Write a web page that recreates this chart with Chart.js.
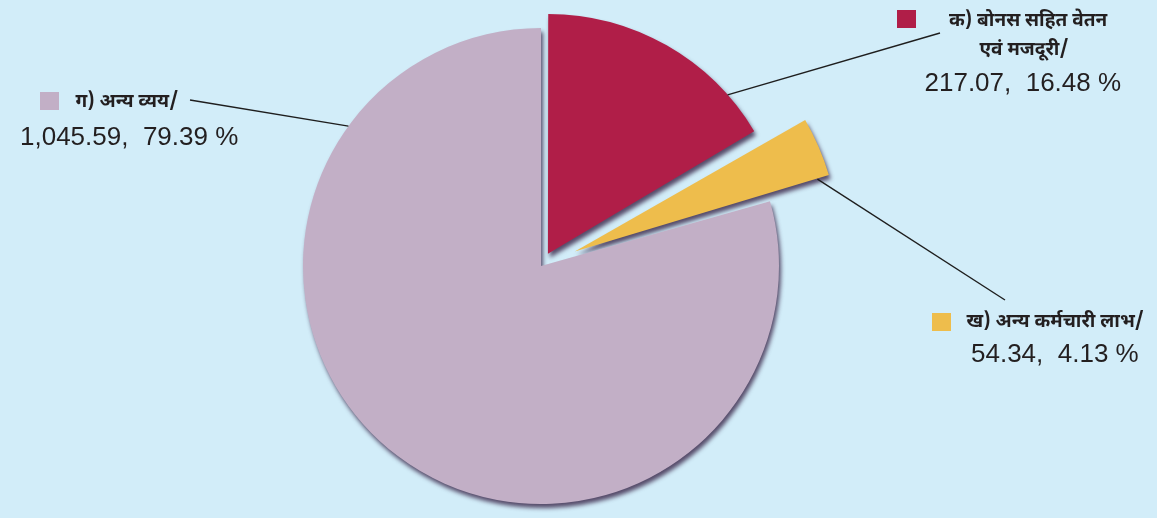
<!DOCTYPE html>
<html>
<head>
<meta charset="utf-8">
<script src="https://cdn.jsdelivr.net/npm/chart.js@4.4.1/dist/chart.umd.min.js"></script>
<style>
  html, body { margin: 0; padding: 0; background: #d2edf9; }
  #wrap { position: relative; width: 1157px; height: 518px; overflow: hidden; background: #d2edf9; }
  canvas { position: absolute; left: 0; top: 0; }
  .lbl { position: absolute; color: #231f20; white-space: nowrap; }
  .dev { font-family: "Noto Sans Devanagari", "Noto Sans", "Lohit Devanagari", sans-serif; font-size: 19px; font-weight: 700; line-height: 26px; }
  .num { font-family: "Liberation Sans", Arial, sans-serif; font-size: 26px; line-height: 30px; }
  .sw { position: absolute; width: 19px; height: 18px; }
</style>
</head>
<body>
<div id="wrap">
  <canvas id="c" width="1157" height="518"></canvas>
</div>
<script>
// ---- data ----
const categories = ['क) बोनस सहित वेतन एवं मजदूरी/', 'ख) अन्य कर्मचारी लाभ/', 'ग) अन्य व्यय/'];
const labelLines = [['क) बोनस सहित वेतन', 'एवं मजदूरी/'], ['ख) अन्य कर्मचारी लाभ/'], ['ग) अन्य व्यय/']];
const values = [217.07, 54.34, 1045.59];
const valueLabels = ['217.07', '54.34', '1,045.59'];
const percentLabels = ['16.48 %', '4.13 %', '79.39 %'];
const colors = ['#b01e48', '#eebd4c', '#c2afc6'];

// ---- label layout (positions only) ----
const wrap = document.getElementById('wrap');
const labelLayout = [
  { sw: [897, 10], lines: [[1028, 9, 'c'], [1024, 38, 'c']], num: [1023, 67, 'c'], anchor: [940, 33], frac: 0.82, rf: 1.0 },
  { sw: [932, 313], lines: [[1055, 310, 'c']], num: [1055, 338, 'c'], anchor: [1005, 300], frac: 1.0, rf: 0.95 },
  { sw: [40, 92], lines: [[127, 90, 'c']], num: [129, 121, 'c'], anchor: [190, 100], frac: 0.811, rf: 1.0 }
];

function addText(cls, text, cx, y) {
  const d = document.createElement('div');
  d.className = 'lbl ' + cls;
  d.textContent = text;
  wrap.appendChild(d);
  d.style.top = y + 'px';
  d.style.left = (cx - d.offsetWidth / 2) + 'px';
}
labelLayout.forEach((L, i) => {
  const s = document.createElement('div');
  s.className = 'sw';
  s.style.left = L.sw[0] + 'px';
  s.style.top = L.sw[1] + 'px';
  s.style.background = colors[i];
  wrap.appendChild(s);
  labelLines[i].forEach((t, j) => addText('dev', t, L.lines[j][0], L.lines[j][1]));
  addText('num', valueLabels[i] + ',\u00a0 ' + percentLabels[i], L.num[0], L.num[1]);
});

const shadowPlugin = {
  id: 'shadow',
  beforeDatasetsDraw(chart) {
    const ctx = chart.ctx;
    ctx.save();
    ctx.shadowColor = 'rgba(55,35,70,0.8)';
    ctx.shadowBlur = 4;
    ctx.shadowOffsetX = 2;
    ctx.shadowOffsetY = 4;
  },
  afterDatasetsDraw(chart) {
    chart.ctx.restore();
  }
};

// same displacement the arc element applies when drawing an offset slice
function arcShift(p, off) {
  const o = (off || 0) / 4;
  const circ = p.endAngle - p.startAngle;
  const fix = 1 - Math.sin(Math.min(Math.PI, circ || 0));
  const d = o + o * fix;
  const h = (p.startAngle + p.endAngle) / 2;
  return [Math.cos(h) * d, Math.sin(h) * d];
}

const leaderPlugin = {
  id: 'leaders',
  afterDatasetsDraw(chart) {
    const ctx = chart.ctx;
    const meta = chart.getDatasetMeta(0);
    ctx.save();
    ctx.strokeStyle = '#1e1e1e';
    ctx.lineWidth = 1.4;
    meta.data.forEach((arc, i) => {
      const p = arc.getProps(['x', 'y', 'startAngle', 'endAngle', 'outerRadius'], true);
      const sh = arcShift(p, arc.options.offset);
      const L = labelLayout[i];
      const a = p.startAngle + L.frac * (p.endAngle - p.startAngle);
      const px = p.x + sh[0] + Math.cos(a) * p.outerRadius * L.rf;
      const py = p.y + sh[1] + Math.sin(a) * p.outerRadius * L.rf;
      ctx.beginPath();
      ctx.moveTo(px, py);
      ctx.lineTo(L.anchor[0], L.anchor[1]);
      ctx.stroke();
    });
    ctx.restore();
  }
};

new Chart(document.getElementById('c'), {
  type: 'pie',
  data: {
    labels: categories,
    datasets: [{
      data: values,
      backgroundColor: colors,
      borderWidth: 0,
      offset: [56, 147, 0]
    }]
  },
  options: {
    responsive: false,
    animation: false,
    radius: 238,
    layout: { padding: { left: 0, right: 75, top: 14, bottom: 0 } },
    plugins: { legend: { display: false }, tooltip: { enabled: false } }
  },
  plugins: [shadowPlugin, leaderPlugin]
});
</script>
</body>
</html>
